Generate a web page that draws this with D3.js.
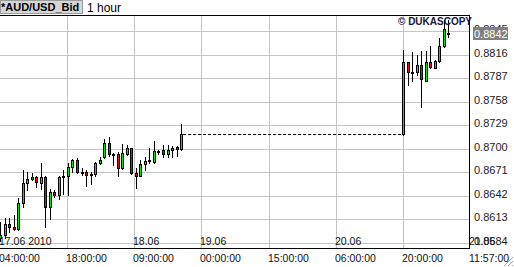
<!DOCTYPE html>
<html lang="en">
<head>
    <meta charset="UTF-8">
    <title>AUD/USD 1 hour</title>
    <script src="https://cdn.jsdelivr.net/npm/d3@7/dist/d3.min.js"></script>
    <style>
        body { margin: 0; background: #fff; overflow: hidden; }
        svg { display: block; font-family: "Liberation Sans", Arial, sans-serif; }
    </style>
</head>
<body>
<script>
    // canvas size
    const width = 514;
    const height = 267;

    // candle times, hours counted from 17.06 04:00 (weekend gap after hour 40)
    const hours = [0, 1, 2, 3, 4, 5, 6, 7, 8, 9, 10, 11, 12, 13, 14, 15, 16, 17, 18, 19, 20,
        21, 22, 23, 24, 25, 26, 27, 28, 29, 30, 31, 32, 33, 34, 35, 36, 37, 38, 39, 40,
        89, 90, 91, 92, 93, 94, 95, 96, 97, 98, 99];
    const opens = [0.8590, 0.8594, 0.8607, 0.8604, 0.8601, 0.8633, 0.8658, 0.8663, 0.8665, 0.8658,
        0.8665, 0.8628, 0.8647, 0.8643, 0.8665, 0.8666, 0.8678, 0.8686, 0.8671, 0.8672,
        0.8668, 0.8669, 0.8683, 0.8690, 0.8707, 0.8694, 0.8694, 0.8676, 0.8694, 0.8701,
        0.8670, 0.8667, 0.8681, 0.8685, 0.8684, 0.8697, 0.8698, 0.8693, 0.8698, 0.8702,
        0.8700,
        0.8718, 0.8807, 0.8794, 0.8794, 0.8803, 0.8784, 0.8807, 0.8800, 0.8808, 0.8826, 0.8843];
    const highs = [0.8610, 0.8615, 0.8615, 0.8618, 0.8639, 0.8674, 0.8671, 0.8670, 0.8666, 0.8683,
        0.8666, 0.8650, 0.8649, 0.8666, 0.8674, 0.8683, 0.8687, 0.8689, 0.8676, 0.8674,
        0.8671, 0.8684, 0.8690, 0.8712, 0.8714, 0.8695, 0.8696, 0.8706, 0.8705, 0.8701,
        0.8676, 0.8686, 0.8690, 0.8701, 0.8710, 0.8699, 0.8705, 0.8705, 0.8703, 0.8703,
        0.8731,
        0.8822, 0.8807, 0.8819, 0.8815, 0.8820, 0.8820, 0.8826, 0.8809, 0.8836, 0.8859, 0.8858];
    const lows = [0.8586, 0.8590, 0.8598, 0.8600, 0.8600, 0.8628, 0.8649, 0.8661, 0.8653, 0.8650,
        0.8604, 0.8614, 0.8641, 0.8638, 0.8644, 0.8643, 0.8671, 0.8670, 0.8668, 0.8654,
        0.8657, 0.8667, 0.8681, 0.8689, 0.8691, 0.8680, 0.8666, 0.8675, 0.8692, 0.8669,
        0.8652, 0.8667, 0.8674, 0.8682, 0.8683, 0.8694, 0.8690, 0.8690, 0.8690, 0.8691,
        0.8699,
        0.8717, 0.8779, 0.8783, 0.8791, 0.8752, 0.8783, 0.8799, 0.8799, 0.8807, 0.8825, 0.8838];
    const closes = [0.8594, 0.8607, 0.8604, 0.8601, 0.8633, 0.8658, 0.8663, 0.8665, 0.8659, 0.8665,
        0.8628, 0.8647, 0.8643, 0.8665, 0.8666, 0.8678, 0.8686, 0.8671, 0.8672, 0.8668,
        0.8669, 0.8683, 0.8686, 0.8707, 0.8694, 0.8694, 0.8676, 0.8695, 0.8701, 0.8670,
        0.8666, 0.8681, 0.8685, 0.8686, 0.8697, 0.8697, 0.8693, 0.8698, 0.8701, 0.8700,
        0.8718,
        0.8807, 0.8794, 0.8794, 0.8803, 0.8786, 0.8807, 0.8801, 0.8808, 0.8827, 0.8847, 0.8842];

    // axis labels
    const yTicks = [0.8584, 0.8613, 0.8642, 0.8671, 0.8700, 0.8729, 0.8758, 0.8787, 0.8816, 0.8845];
    const timeLabels = ['04:00:00', '18:00:00', '09:00:00', '00:00:00', '15:00:00', '06:00:00', '20:00:00', '11:57:00'];
    const dateLabels = ['17.06 2010', '', '18.06', '19.06', '', '20.06', '', '21.06'];
    const lastPrice = 0.8842;

    // plot area
    const plot = { left: 0, right: 470, top: 15, bottom: 249 };

    const candles = hours.map((h, i) => ({ h: h, o: opens[i], hi: highs[i], lo: lows[i], c: closes[i] }));

    let svg = d3.select('body')
        .append('svg')
        .attr('width', width)
        .attr('height', height);

    // scales
    let xScale = d3.scaleLinear()
        .domain([0, 103.8])
        .range([plot.left, plot.right]);

    let yScale = d3.scaleLinear()
        .domain([0.85766, 0.88647])
        .range([plot.bottom, plot.top]);

    const px = v => Math.round(v) + 0.5;

    // grid times, evenly spread over the domain
    const span = xScale.domain()[1] - xScale.domain()[0];
    const gridHours = timeLabels.map((d, k) => xScale.domain()[0] + k * span / (timeLabels.length - 1));

    // horizontal grid
    svg.append('g')
        .selectAll('line')
        .data(yTicks)
        .enter()
        .append('line')
        .attr('x1', plot.left)
        .attr('x2', plot.right - 1)
        .attr('y1', d => px(yScale(d)))
        .attr('y2', d => px(yScale(d)))
        .attr('stroke', '#c4c4c4');

    // vertical grid
    svg.append('g')
        .selectAll('line')
        .data(gridHours.slice(1, -1))
        .enter()
        .append('line')
        .attr('x1', d => px(xScale(d)))
        .attr('x2', d => px(xScale(d)))
        .attr('y1', plot.top)
        .attr('y2', plot.bottom)
        .attr('stroke', '#c4c4c4');

    // date labels inside the plot
    svg.append('g')
        .selectAll('text')
        .data(dateLabels)
        .enter()
        .append('text')
        .attr('x', (d, i) => Math.round(xScale(gridHours[i])) - 1)
        .attr('y', 245)
        .attr('font-size', '10.5px')
        .attr('fill', '#111')
        .text(d => d);

    // weekend gap
    const fri = candles[40];
    const sun = candles[41];
    svg.append('line')
        .attr('x1', xScale(fri.h) + 2)
        .attr('x2', xScale(sun.h) - 2)
        .attr('y1', px(yScale(fri.c)))
        .attr('y2', px(yScale(fri.c)))
        .attr('stroke', '#000')
        .attr('stroke-dasharray', '3,2');

    // candles
    let g = svg.append('g')
        .selectAll('g')
        .data(candles)
        .enter()
        .append('g');

    g.append('line')
        .attr('x1', d => px(xScale(d.h)))
        .attr('x2', d => px(xScale(d.h)))
        .attr('y1', d => Math.round(yScale(d.hi)))
        .attr('y2', d => Math.round(yScale(d.lo)) + 1)
        .attr('stroke', '#000');

    g.append('rect')
        .attr('x', d => px(xScale(d.h)) - 1)
        .attr('width', 2)
        .attr('y', d => px(yScale(Math.max(d.o, d.c))))
        .attr('height', d => Math.max(1, Math.round(yScale(Math.min(d.o, d.c))) - Math.round(yScale(Math.max(d.o, d.c)))))
        .attr('fill', d => d.c >= d.o ? '#11dd11' : '#dd1111')
        .attr('stroke', '#000');

    // frame lines
    svg.append('line')
        .attr('x1', 0).attr('x2', plot.right)
        .attr('y1', plot.top + 0.5).attr('y2', plot.top + 0.5)
        .attr('stroke', '#000');
    svg.append('line')
        .attr('x1', 0).attr('x2', plot.right)
        .attr('y1', plot.bottom - 0.5).attr('y2', plot.bottom - 0.5)
        .attr('stroke', '#000');
    svg.append('line')
        .attr('x1', plot.right - 0.5).attr('x2', plot.right - 0.5)
        .attr('y1', plot.top).attr('y2', plot.bottom)
        .attr('stroke', '#000');

    // price labels
    svg.append('g')
        .selectAll('text')
        .data(yTicks)
        .enter()
        .append('text')
        .attr('x', 474)
        .attr('y', d => Math.round(yScale(d)) + 1.5)
        .attr('font-size', '11px')
        .attr('fill', '#222')
        .text(d => d.toFixed(4));

    // current price marker
    const yLast = Math.round(yScale(lastPrice));
    svg.append('rect')
        .attr('x', 473)
        .attr('y', yLast - 6)
        .attr('width', 35)
        .attr('height', 13)
        .attr('fill', '#808080');
    svg.append('text')
        .attr('x', 474)
        .attr('y', yLast + 4.5)
        .attr('font-size', '11px')
        .attr('fill', '#fff')
        .text(lastPrice.toFixed(4));

    // time labels under the axis
    svg.append('g')
        .selectAll('text')
        .data(timeLabels)
        .enter()
        .append('text')
        .attr('x', (d, i) => Math.round(xScale(gridHours[i])) - 1)
        .attr('y', 262)
        .attr('font-size', '10.5px')
        .attr('fill', '#111')
        .text(d => d);

    // title
    svg.append('rect')
        .attr('x', 0.5).attr('y', 0.5)
        .attr('width', 82).attr('height', 13)
        .attr('fill', '#d6d6d6')
        .attr('stroke', '#9a9a9a');
    svg.append('text')
        .attr('x', 1)
        .attr('y', 11)
        .attr('font-size', '11px')
        .attr('font-weight', 'bold')
        .attr('fill', '#000')
        .text('*AUD/USD_Bid');
    svg.append('text')
        .attr('x', 87)
        .attr('y', 11.5)
        .attr('font-size', '12px')
        .attr('fill', '#000')
        .text('1 hour');

    svg.append('text')
        .attr('x', 398)
        .attr('y', 25)
        .attr('font-size', '10px')
        .attr('font-weight', 'bold')
        .attr('fill', '#16163a')
        .text('© DUKASCOPY');

    // resize grip
    svg.append('g')
        .selectAll('line')
        .data([0, 4, 8])
        .enter()
        .append('line')
        .attr('x1', d => 504 + d).attr('y1', 266)
        .attr('x2', 513).attr('y2', d => 257 + d)
        .attr('stroke', '#a0a0a0');
</script>
</body>
</html>
